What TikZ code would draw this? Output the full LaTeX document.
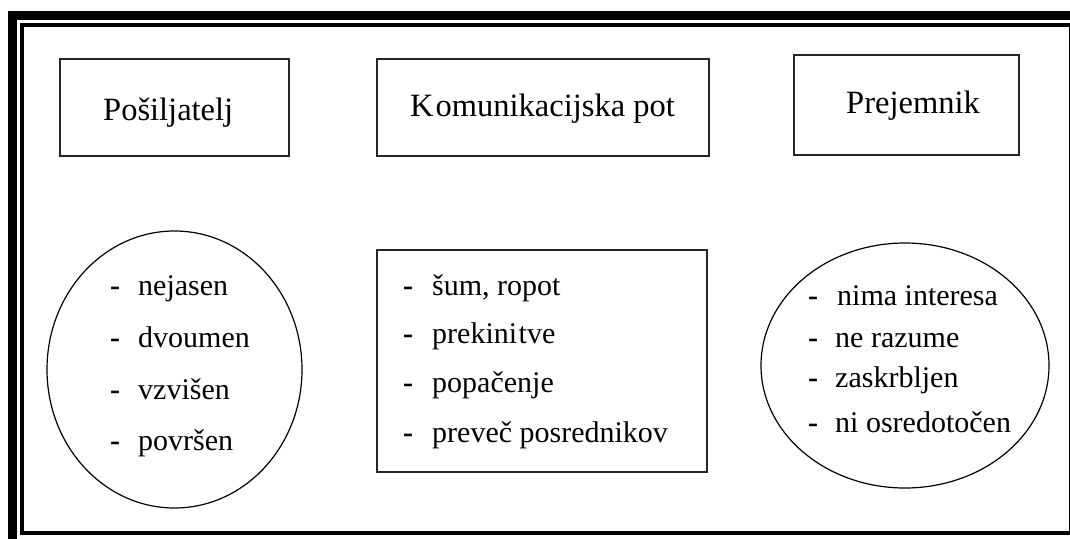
\documentclass[tikz,border=0pt]{standalone}
\usepackage{fontspec}
\setmainfont{Liberation Serif}
\usetikzlibrary{shapes.geometric}
\begin{document}
\begin{tikzpicture}[x=1pt,y=-1pt,
  framebox/.style={draw=black!85, line width=1.6pt, inner sep=0pt, outer sep=0pt},
  oval/.style={draw=black, line width=1.2pt, ellipse, inner sep=0pt, outer sep=0pt},
  title/.style={anchor=base west, inner sep=0pt, font=\fontsize{32.5}{38}\selectfont},
  item/.style={anchor=base west, inner sep=0pt, font=\fontsize{30}{36}\selectfont},
]
\useasboundingbox (0,0) rectangle (1070,538);
\clip (0,0) rectangle (1070,538);
% double frame
\draw[line width=9pt] (12.5,15) rectangle (1100,570);
\draw[line width=4pt] (21.8,24.5) rectangle (1070.5,533);

% top boxes
\node[framebox, minimum width=229pt, minimum height=97pt] (b1) at (174.5,107.5) {};
\node[framebox, minimum width=332pt, minimum height=97pt] (b2) at (543,107.5) {};
\node[framebox, minimum width=225pt, minimum height=100pt] (b3) at (906.5,105) {};
\node[title] (t1) at (103,120) {Pošiljatelj};
\node[title] (t2) at (410,116) {K\kern2pt omunikacijska pot};
\node[title] (t3) at (846,113) {Prejemnik};

% bottom shapes
\node[oval, minimum width=255pt, minimum height=277pt] (e1) at (174.5,369.5) {};
\node[framebox, minimum width=330pt, minimum height=222pt] (b4) at (542,361) {};
\node[oval, minimum width=288pt, minimum height=245pt] (e3) at (905,365.5) {};

% left list
\node[item] (l1) at (110,295) {\makebox[28pt][l]{\textbf{-}}nejasen};
\node[item] (l2) at (110,347) {\makebox[28pt][l]{\textbf{-}}dvoumen};
\node[item] (l3) at (110,399) {\makebox[28pt][l]{\textbf{-}}vzvišen};
\node[item] (l4) at (110,450) {\makebox[28pt][l]{\textbf{-}}površen};

% middle list
\node[item] (m1) at (403,295) {\makebox[29pt][l]{\textbf{-}}šum, ropot};
\node[item] (m2) at (403,343) {\makebox[29pt][l]{\textbf{-}}prekini\kern1.5pt tve};
\node[item] (m3) at (403,392) {\makebox[29pt][l]{\textbf{-}}popačenje};
\node[item] (m4) at (403,442) {\makebox[29pt][l]{\textbf{-}}preveč posrednikov};

% right list
\node[item] (r1) at (808,305) {\makebox[29pt][l]{\textbf{-}}nima interesa};
\node[item] (r2) at (808,347) {\makebox[27pt][l]{\textbf{-}}ne razume};
\node[item] (r3) at (808,387) {\makebox[27pt][l]{\textbf{-}}zaskrbljen};
\node[item] (r4) at (808,432) {\makebox[27pt][l]{\textbf{-}}ni osredotočen};
\end{tikzpicture}
\end{document}
